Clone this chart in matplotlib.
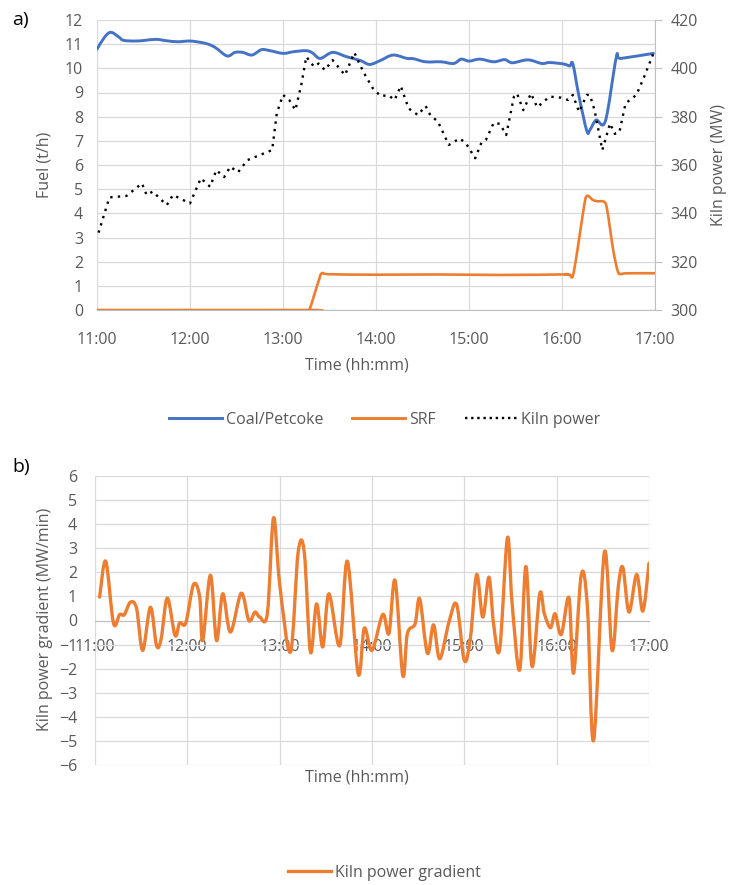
import numpy as np
import matplotlib
matplotlib.use("Agg")
import matplotlib.pyplot as plt
from matplotlib.path import Path
from matplotlib.patches import PathPatch
from matplotlib.lines import Line2D

plt.rcParams['font.family'] = ['Open Sans', 'DejaVu Sans']

# time in minutes after 11:00
hour_ticks = [0, 60, 120, 180, 240, 300, 360]
hour_labels = ['11:00', '12:00', '13:00', '14:00', '15:00', '16:00', '17:00']

coal_t = [0, 5, 9, 14, 17, 24, 30, 38, 45, 52, 60, 68, 73, 77, 84, 89, 94, 100,
          106, 111, 120, 127, 135, 139, 144, 152, 161, 170, 176, 183, 191, 200,
          204, 212, 222, 230, 235, 240, 247, 256, 263, 268, 278, 287, 292, 301,
          305, 307, 311, 316, 318, 322, 328, 335, 338, 359]
coal = [10.79, 11.3, 11.49, 11.3, 11.16, 11.13, 11.15, 11.2, 11.14, 11.1, 11.13,
        11.06, 10.97, 10.83, 10.51, 10.66, 10.66, 10.55, 10.77, 10.74, 10.62,
        10.69, 10.73, 10.64, 10.41, 10.66, 10.48, 10.32, 10.16, 10.33, 10.55,
        10.41, 10.40, 10.27, 10.27, 10.2, 10.38, 10.3, 10.38, 10.27, 10.36,
        10.23, 10.35, 10.2, 10.24, 10.18, 10.1, 10.18, 8.83, 7.41, 7.45, 7.86,
        7.82, 10.44, 10.41, 10.62]

srf_t = [0, 135, 137, 140, 143, 145, 150, 180, 220, 260, 300, 302, 305, 307,
         310, 314, 316, 320, 323, 327, 329, 333, 336, 338, 342, 360]
srf = [0, 0, 0, 0.6, 1.2, 1.52, 1.48, 1.46, 1.47, 1.45, 1.47, 1.48, 1.46, 1.41,
       2.5, 4.2, 4.72, 4.55, 4.5, 4.48, 4.2, 2.5, 1.6, 1.49, 1.52, 1.52]

kiln_t = [1, 8, 19, 29, 32, 36, 45, 49, 60, 67, 73, 77, 82, 86, 91, 97, 105, 113,
          116, 120, 124, 128, 132, 135, 140, 143, 147, 152, 160, 166, 170, 173,
          178, 183, 188, 192, 196, 201, 207, 212, 215, 220, 227, 234, 238, 244,
          248, 251, 256, 260, 264, 269, 271, 275, 280, 284, 292, 299, 304, 307,
          311, 316, 318, 321, 326, 331, 334, 337, 341, 348, 353, 359]
kiln = [332, 346.6, 347.2, 352.4, 347.6, 349, 343.4, 347.6, 344.1, 354.5, 351,
        357.9, 355, 359.3, 357, 362, 364.1, 366.2, 381.4, 389, 386.9, 382.7,
        393.8, 404.8, 400.7, 402, 399.3, 403.4, 397.2, 406.5, 401, 397.2, 391.7,
        388.5, 388.9, 386.9, 392.7, 383.4, 380.7, 384.4, 380.7, 377.9, 368.3,
        371, 369, 362.8, 369.2, 370.5, 377.5, 377, 372.4, 388.3, 389.6, 382.7,
        389.6, 383.9, 388.3, 387.9, 386.9, 389, 382, 389, 389, 382.7, 366.2,
        377.2, 372.9, 373.5, 385.5, 389, 396.5, 406.2]

grad_t = [3, 7, 12, 16, 19, 23, 27, 31, 36, 40, 43, 47, 52, 55, 59, 64, 68, 70,
          75, 79, 83, 88, 95, 100, 104, 107, 112, 116, 120, 127, 132, 136, 140,
          144, 148, 152, 159, 164, 171, 175, 180, 187, 191, 195, 200, 203, 208,
          211, 216, 220, 224, 230, 235, 240, 244, 248, 252, 256, 259, 263, 268,
          271, 276, 280, 284, 289, 292, 296, 299, 303, 308, 311, 316, 320, 324,
          331, 336, 340, 343, 347, 352, 356, 360]
grad = [0.97, 2.46, -0.11, 0.25, 0.24, 0.76, 0.5, -1.24, 0.55, -1.04, -0.75,
        0.93, -0.62, -0.1, -0.1, 1.49, 0.99, -0.83, 1.88, -0.83, 1.11, -0.48,
        1.13, 0, 0.35, 0.15, 0.29, 4.26, 1.52, -1.31, 2.83, 2.83, -1.31, 0.69,
        -1.1, 1.11, -1.04, 2.46, -2.21, -0.32, -1.24, 0.25, -0.54, 1.66, -2.28,
        -0.54, -0.14, 0.9, -1.36, -0.18, -1.59, -0.07, 0.66, -1.66, -0.7, 1.91,
        0.14, 1.8, -0.14, -1.18, 3.43, 0.74, -2.05, 2.24, -1.91, 1.11, 0.28,
        -0.3, 0.28, -0.58, 0.94, -2.19, 1.91, 0.55, -4.98, 2.83, -1.24, 1.38,
        2.21, 0.35, 1.91, 0.39, 2.38]

BLUE = '#4472C4'
ORANGE = '#ED7D31'
GRID = '#D9D9D9'
AXIS = '#BFBFBF'
TXT = '#595959'
FS = 11.5


def smooth_line(ax, x, y, color, lw):
    # Excel-style smoothed line: cubic Bezier through every point
    p = np.column_stack([x, y]).astype(float)
    verts = [p[0]]
    codes = [Path.MOVETO]
    for i in range(len(p) - 1):
        p0 = p[i - 1] if i > 0 else p[i]
        p3 = p[i + 2] if i + 2 < len(p) else p[i + 1]
        c1 = p[i] + (p[i + 1] - p0) / 6
        c2 = p[i + 1] - (p3 - p[i]) / 6
        verts += [c1, c2, p[i + 1]]
        codes += [Path.CURVE4] * 3
    patch = PathPatch(Path(verts, codes), fill=False, edgecolor=color,
                      linewidth=lw, capstyle='round', joinstyle='round', zorder=3)
    ax.add_patch(patch)


fig = plt.figure(figsize=(7.32, 8.85), dpi=100)

# ---- a) fuel and kiln power
ax = fig.add_axes([97 / 732, 1 - 310 / 885, 558 / 732, 290 / 885])
ax.set_xlim(0, 360)
ax.set_ylim(0, 12)
ax.set_yticks(range(0, 13))
ax.set_xticks(hour_ticks)
ax.set_xticklabels(hour_labels)
ax.grid(True, color=GRID, lw=0.9)
ax.set_axisbelow(True)
for s in ['left', 'top', 'right']:
    ax.spines[s].set_visible(False)
ax.spines['bottom'].set_color(AXIS)
ax.tick_params(length=0, labelsize=FS, labelcolor=TXT)
ax.tick_params(axis='x', pad=16)
ax.tick_params(axis='y', pad=10)
smooth_line(ax, coal_t, coal, BLUE, 2.1)
smooth_line(ax, srf_t, srf, ORANGE, 1.9)
ax.set_ylabel('Fuel (t/h)', fontsize=FS, color=TXT)
ax.yaxis.set_label_coords(-0.079, 0.5)

ax2 = ax.twinx()
ax2.set_ylim(300, 420)
ax2.set_yticks(range(300, 421, 20))
ax2.plot(kiln_t, kiln, color='black', lw=1.7, linestyle=(0, (1, 2.2)), zorder=4)
for s in ['left', 'top', 'bottom']:
    ax2.spines[s].set_visible(False)
ax2.spines['right'].set_color(AXIS)
ax2.tick_params(axis='y', direction='out', length=5, color=AXIS,
                labelsize=FS, labelcolor=TXT, pad=6)
ax2.set_ylabel('Kiln power (MW)', fontsize=FS, color=TXT)
ax2.yaxis.set_label_coords(1.1, 0.5)

fig.text(357 / 732, 1 - 365 / 885, 'Time (hh:mm)', fontsize=FS, color=TXT,
         ha='center', va='center')
fig.text(12 / 732, 1 - 20 / 885, 'a)', fontsize=14, color='black',
         ha='left', va='center')

handles = [Line2D([], [], color=BLUE, lw=2.1),
           Line2D([], [], color=ORANGE, lw=2.1),
           Line2D([], [], color='black', lw=1.7, linestyle=(0, (1, 1.6)))]
fig.legend(handles, ['Coal/Petcoke', 'SRF', 'Kiln power'], ncol=3,
           loc='center', bbox_to_anchor=(385 / 732, 1 - 420 / 885),
           frameon=False, fontsize=FS, labelcolor=TXT, handlelength=3.3,
           handletextpad=0.25, columnspacing=1.8)

# ---- b) kiln power gradient
axb = fig.add_axes([95 / 732, 1 - 765 / 885, 554 / 732, 289 / 885])
axb.set_xlim(0, 360)
axb.set_ylim(-6, 6)
axb.set_yticks(range(-6, 7))
axb.set_xticks(hour_ticks)
axb.set_xticklabels(hour_labels)
axb.grid(True, color=GRID, lw=0.9)
axb.set_axisbelow(True)
for s in ['left', 'top', 'right']:
    axb.spines[s].set_visible(False)
axb.spines['bottom'].set_position(('data', 0))
axb.spines['bottom'].set_color(AXIS)
axb.tick_params(length=0, labelsize=FS, labelcolor=TXT)
axb.tick_params(axis='x', pad=13)
axb.tick_params(axis='y', pad=13)
smooth_line(axb, grad_t, grad, ORANGE, 2.4)
axb.set_ylabel('Kiln power gradient (MW/min)', fontsize=FS, color=TXT)
axb.yaxis.set_label_coords(-0.076, 0.505)

fig.text(357 / 732, 1 - 778 / 885, 'Time (hh:mm)', fontsize=FS, color=TXT,
         ha='center', va='center')
fig.text(12 / 732, 1 - 467 / 885, 'b)', fontsize=14, color='black',
         ha='left', va='center')

fig.legend([Line2D([], [], color=ORANGE, lw=2.4)], ['Kiln power gradient'],
           loc='center', bbox_to_anchor=(384 / 732, 1 - 873 / 885),
           frameon=False, fontsize=FS, labelcolor=TXT, handlelength=2.7,
           handletextpad=0.25)

fig.savefig('out.png', dpi=100, facecolor='white')
